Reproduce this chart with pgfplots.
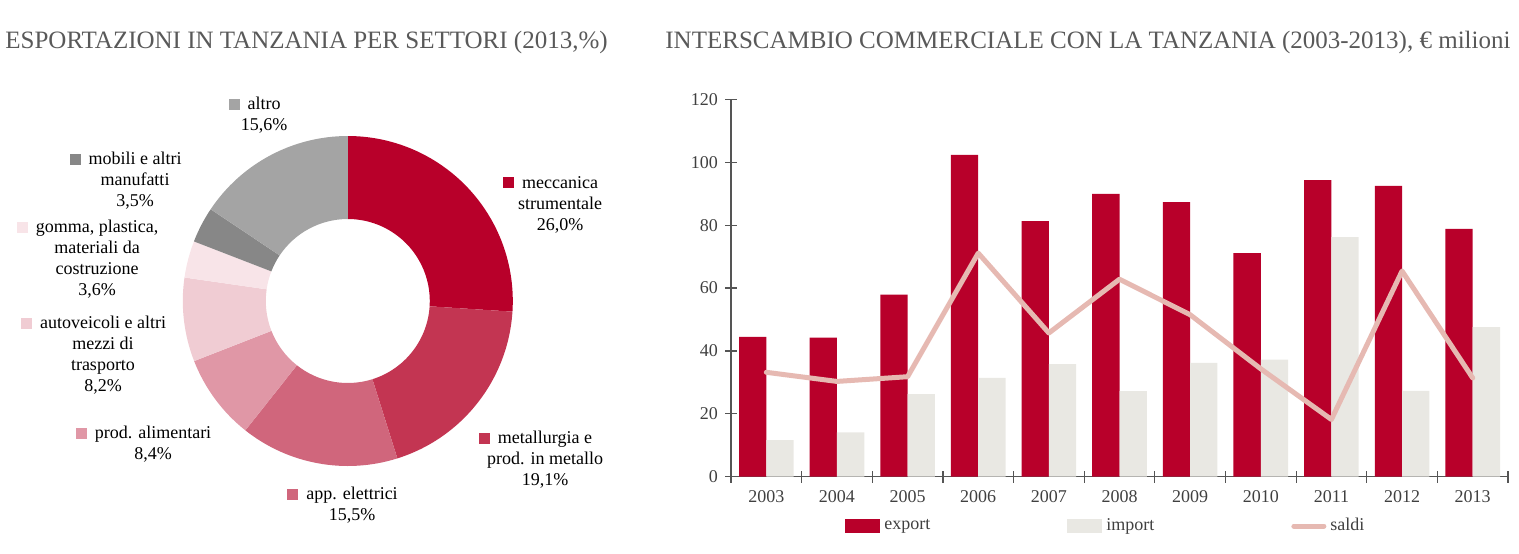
\documentclass[border=0pt]{standalone}
\usepackage{pgfplots}
\usepackage{pgfplotstable}
\pgfplotsset{compat=1.18}
\usepackage{fontspec}
\setmainfont{Liberation Serif}
\definecolor{cA}{HTML}{B8002A}
\definecolor{cB}{HTML}{C33552}
\definecolor{cC}{HTML}{D0667C}
\definecolor{cD}{HTML}{E097A6}
\definecolor{cE}{HTML}{F0CCD3}
\definecolor{cF}{HTML}{F8E4E8}
\definecolor{cG}{HTML}{878787}
\definecolor{cH}{HTML}{A4A4A4}
\definecolor{importc}{HTML}{E9E8E3}
\definecolor{saldic}{HTML}{E6B9B2}
\definecolor{axisgray}{HTML}{555555}
\definecolor{tickgray}{HTML}{404040}
\definecolor{titlegray}{HTML}{595959}
\newcommand\sq[1]{\llap{\textcolor{#1}{\rule{5.5pt}{5.5pt}}\hspace{4pt}}}
\pgfplotstableread{
x export import saldi
0 44.5 11.6 33.2
1 44.2 14.1 30.3
2 57.9 26.3 31.8
3 102.3 31.4 71.1
4 81.3 35.8 45.7
5 89.9 27.2 62.8
6 87.3 36.2 51.5
7 71.1 37.2 34.3
8 94.3 76.2 18.2
9 92.5 27.3 65.4
10 78.8 47.6 31.4
}\datatable
\begin{document}
\begin{tikzpicture}
\useasboundingbox (0,0) rectangle (759.5pt,-276.5pt);
% donut
\begin{axis}[at={(173.9pt,-150.5pt)}, anchor=center, scale only axis,
  width=165pt, height=165pt, xmin=-1, xmax=1, ymin=-1, ymax=1, hide axis]
\addplot[draw=none] coordinates {(0,0)};
\pgfplotsextra{
  \path (axis cs:0,0) coordinate (O);
  \xdef\startang{90}
  \foreach \v/\c in {26.0/cA,19.1/cB,15.5/cC,8.4/cD,8.2/cE,3.6/cF,3.5/cG,15.6/cH}{
    \pgfmathsetmacro\endang{\startang-\v*360/99.9}
    \fill[\c] ([shift={(\startang:82.5pt)}]O) arc[start angle=\startang,end angle=\endang,radius=82.5pt]
      -- ([shift={(\endang:41pt)}]O) arc[start angle=\endang,end angle=\startang,radius=41pt] -- cycle;
    \xdef\startang{\endang}
  }
}
\end{axis}
% bars
\begin{axis}[at={(365.5pt,-238.35pt)}, anchor=south west, scale only axis,
  width=388.5pt, height=188.7pt,
  xmin=-0.5, xmax=10.5, ymin=0, ymax=120,
  axis lines=left, axis line style={-, draw=axisgray, line width=0.6pt},
  tick align=center, major tick length=6pt,
  tick style={draw=axisgray, line width=0.6pt},
  ytick={0,20,...,120},
  xtick={-0.5,0.5,...,10.5}, xticklabels={},
  extra x ticks={0,1,...,10},
  extra x tick labels={2003,2004,2005,2006,2007,2008,2009,2010,2011,2012,2013},
  extra x tick style={major tick length=0pt, xticklabel style={yshift=-3.5pt}},
  ticklabel style={font=\fontsize{9}{10.5}\selectfont, text=tickgray},
  /pgf/number format/assume math mode=true,
  /pgf/number format/1000 sep={},
  clip=false,
  legend columns=3,
  legend style={at={(axis description cs:0.1467,-0.1306)}, anchor=west, draw=none, fill=none,
    inner sep=0pt, font=\fontsize{9}{10.5}\selectfont, text=tickgray,
    /tikz/every even column/.append style={column sep=66.5pt}},
]
\addplot[ybar, bar width=13.65pt, bar shift=-6.825pt, fill=cA, draw=none,
  legend image code/.code={\fill[cA] (0pt,-3.5pt) rectangle (17.5pt,3.5pt);}]
  table[x=x,y=export]{\datatable};
\addlegendentry{export}
\addplot[ybar, bar width=13.65pt, bar shift=6.825pt, fill=importc, draw=none,
  legend image code/.code={\fill[importc] (0pt,-3.5pt) rectangle (17.5pt,3.5pt);}]
  table[x=x,y=import]{\datatable};
\addlegendentry{import}
\addplot[saldic, line width=2.5pt, line join=round, line cap=round, mark=none,
  legend image code/.code={\draw[saldic, line width=2.5pt, line cap=round] (1.25pt,0pt) -- (16.25pt,0pt);}]
  table[x=x,y=saldi]{\datatable};
\addlegendentry{saldi}
\end{axis}
\begin{scope}[x=0.5pt,y=-0.5pt, every node/.style={inner sep=0pt, font=\fontsize{9}{10.5}\selectfont, align=center, anchor=north}]
\node[anchor=west, font=\fontsize{12.5}{14}\selectfont, text=titlegray] at (5,42) {ESPORTAZIONI IN TANZANIA PER SETTORI (2013,\%)};
\node[anchor=west, font=\fontsize{12.5}{14}\selectfont, text=titlegray] at (665,42) {INTERSCAMBIO COMMERCIALE CON LA TANZANIA (2003-2013), € milioni};
\node at (264,97) {\sq{cH}altro\\15,6\%};
\node at (135,152) {\sq{cG}mobili e altri\\manufatti\\3,5\%};
\node at (97,220) {\sq{cF}gomma, plastica,\\materiali da\\costruzione\\3,6\%};
\node at (103,316) {\sq{cE}autoveicoli e altri\\mezzi di\\trasporto\\8,2\%};
\node at (153,426) {\sq{cD}prod. alimentari\\8,4\%};
\node at (352,487) {\sq{cC}app. elettrici\\15,5\%};
\node at (545,431) {\sq{cB}metallurgia e\\prod. in metallo\\19,1\%};
\node at (560,176) {\sq{cA}meccanica\\strumentale\\26,0\%};
\end{scope}
\end{tikzpicture}
\end{document}
